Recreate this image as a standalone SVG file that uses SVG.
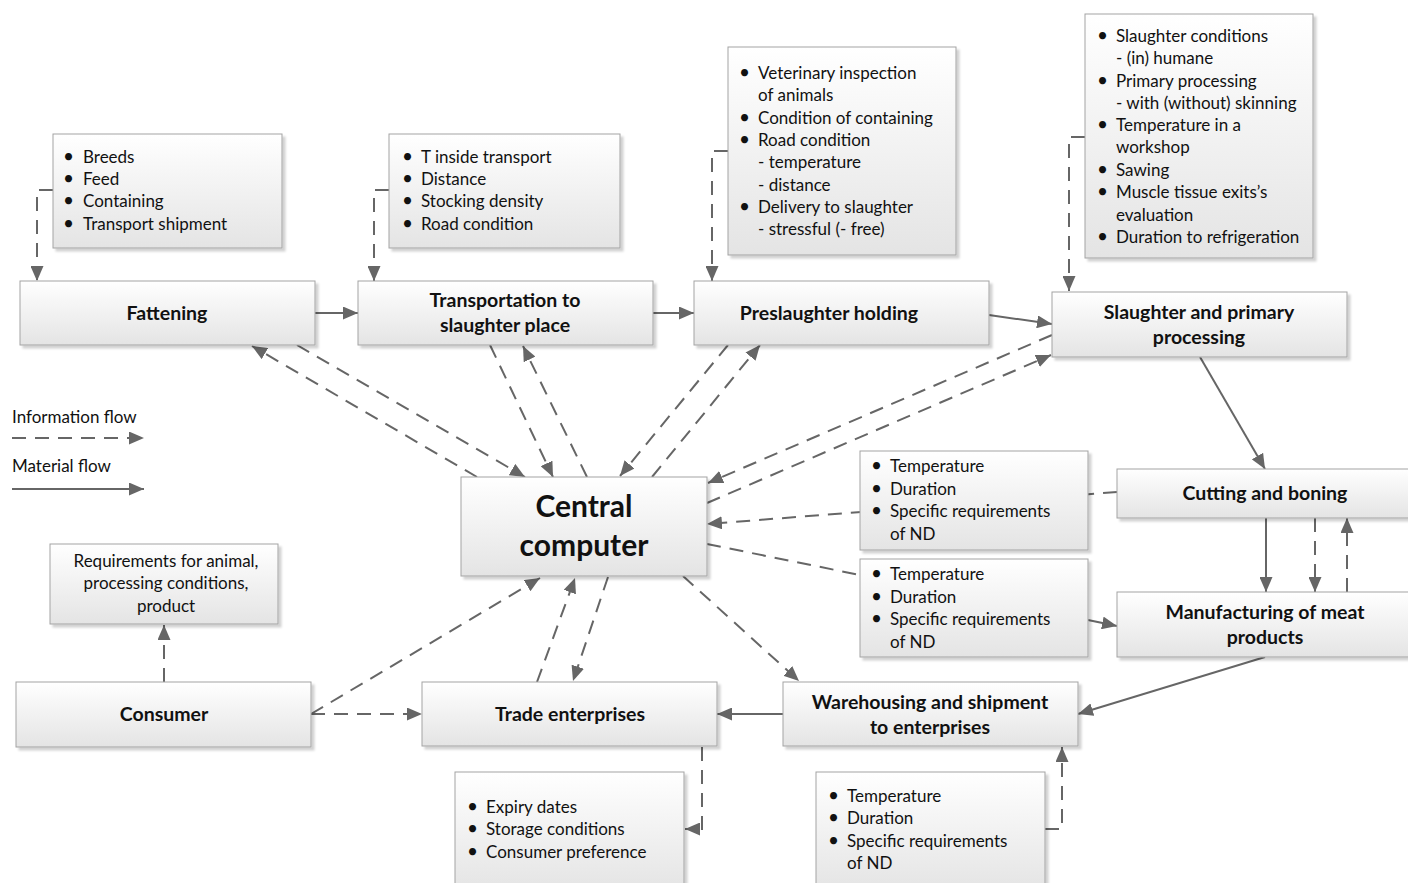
<svg xmlns="http://www.w3.org/2000/svg" width="1408" height="883" viewBox="0 0 1408 883">
<style>
.box{fill:url(#grad);stroke:#a3a3a3;stroke-width:1;filter:url(#sh)}
.t{font-family:Lato,"Liberation Sans",sans-serif;font-size:17px;fill:#111}
.bu{font-size:19px}
.b{font-family:Lato,"Liberation Sans",sans-serif;font-size:19.5px;font-weight:bold;fill:#111;text-anchor:middle}
.big{font-family:Lato,"Liberation Sans",sans-serif;font-size:30px;font-weight:bold;fill:#111;text-anchor:middle}
.c{text-anchor:middle}
.d{fill:none;stroke:#666;stroke-width:2;stroke-dasharray:14 9}
.s{fill:none;stroke:#666;stroke-width:2}
.a{marker-end:url(#ah)}
</style>
<defs>
<linearGradient id="grad" x1="0" y1="0" x2="0" y2="1">
<stop offset="0" stop-color="#ffffff"/>
<stop offset="1" stop-color="#e4e4e4"/>
</linearGradient>
<filter id="sh" x="-5%" y="-5%" width="115%" height="125%">
<feDropShadow dx="3" dy="3" stdDeviation="1.2" flood-color="#000" flood-opacity="0.18"/>
</filter>
<marker id="ah" markerUnits="userSpaceOnUse" markerWidth="15" markerHeight="13" viewBox="0 0 15 13" refX="15" refY="6.5" orient="auto">
<path d="M0,0 L15,6.5 L0,13 z" fill="#666"/>
</marker>
</defs>
<rect width="1408" height="883" fill="#fff"/>

<g id="connectors">
<path class="d a" d="M53,190 H37 V281"/>
<path class="d a" d="M389,190 H374 V281"/>
<path class="d a" d="M728,151 H712 V281"/>
<path class="d a" d="M1085,137 H1069 V291"/>
<path class="s a" d="M315,313 H358"/>
<path class="s a" d="M653,313 H694"/>
<path class="s a" d="M989,315 L1052,324"/>
<path class="s a" d="M1200,357 L1265,469"/>
<path class="s a" d="M1266,518 V592"/>
<path class="s a" d="M1265,657 L1078,714"/>
<path class="s a" d="M783,714 H717"/>
<path class="s a" d="M1088,620 L1117,626"/>
<path class="d a" d="M297,345 L525,477"/>
<path class="d a" d="M477,477 L252,346"/>
<path class="d a" d="M490,345 L553,477"/>
<path class="d a" d="M587,477 L523,346"/>
<path class="d a" d="M728,345 L620,476"/>
<path class="d a" d="M652,477 L760,345"/>
<path class="d a" d="M1052,335 L708,483"/>
<path class="d a" d="M707,503 L1051,355"/>
<path class="d a" d="M1117,492 L707,524"/>
<path class="d" d="M707,544 L860,575"/>
<path class="d a" d="M683,576 L799,681"/>
<path class="d a" d="M537,682 L575,578"/>
<path class="d a" d="M608,577 L573,681"/>
<path class="d a" d="M311,714 L540,578"/>
<path class="d a" d="M311,714 H422"/>
<path class="d a" d="M164,682 V625"/>
<path class="d a" d="M1315,518 V592"/>
<path class="d a" d="M1347,592 V518"/>
<path class="d a" d="M702,747 V829 H685"/>
<path class="d a" d="M1045,829 H1062 V747"/>
<path class="d a" d="M12,438 H144"/>
<path class="s a" d="M12,489 H144"/>
</g>

<g id="legend">
<text class="t" x="12" y="423">Information flow</text>
<text class="t" x="12" y="472">Material flow</text>
</g>

<g id="info-fattening">
<rect class="box" x="53" y="134" width="229" height="114"/>
<text class="t"><tspan class="bu" x="63" y="163">•</tspan><tspan x="83" y="163">Breeds</tspan><tspan class="bu" x="63" y="185">•</tspan><tspan x="83" y="185">Feed</tspan><tspan class="bu" x="63" y="207">•</tspan><tspan x="83" y="207">Containing</tspan><tspan class="bu" x="63" y="230">•</tspan><tspan x="83" y="230">Transport shipment</tspan></text>
</g>
<g id="info-transport">
<rect class="box" x="389" y="134" width="231" height="114"/>
<text class="t"><tspan class="bu" x="402" y="163">•</tspan><tspan x="421" y="163">T inside transport</tspan><tspan class="bu" x="402" y="185">•</tspan><tspan x="421" y="185">Distance</tspan><tspan class="bu" x="402" y="207">•</tspan><tspan x="421" y="207">Stocking density</tspan><tspan class="bu" x="402" y="230">•</tspan><tspan x="421" y="230">Road condition</tspan></text>
</g>
<g id="info-preslaughter">
<rect class="box" x="728" y="47" width="228" height="208"/>
<text class="t"><tspan class="bu" x="739" y="79">•</tspan><tspan x="758" y="79">Veterinary inspection</tspan><tspan x="758" y="101">of animals</tspan><tspan class="bu" x="739" y="124">•</tspan><tspan x="758" y="124">Condition of containing</tspan><tspan class="bu" x="739" y="146">•</tspan><tspan x="758" y="146">Road condition</tspan><tspan x="758" y="168">- temperature</tspan><tspan x="758" y="191">- distance</tspan><tspan class="bu" x="739" y="213">•</tspan><tspan x="758" y="213">Delivery to slaughter</tspan><tspan x="758" y="235">- stressful (- free)</tspan></text>
</g>
<g id="info-slaughter">
<rect class="box" x="1085" y="14" width="228" height="244"/>
<text class="t"><tspan class="bu" x="1097" y="42">•</tspan><tspan x="1116" y="42">Slaughter conditions</tspan><tspan x="1116" y="64">- (in) humane</tspan><tspan class="bu" x="1097" y="87">•</tspan><tspan x="1116" y="87">Primary processing</tspan><tspan x="1116" y="109">- with (without) skinning</tspan><tspan class="bu" x="1097" y="131">•</tspan><tspan x="1116" y="131">Temperature in a</tspan><tspan x="1116" y="153">workshop</tspan><tspan class="bu" x="1097" y="176">•</tspan><tspan x="1116" y="176">Sawing</tspan><tspan class="bu" x="1097" y="198">•</tspan><tspan x="1116" y="198">Muscle tissue exits’s</tspan><tspan x="1116" y="221">evaluation</tspan><tspan class="bu" x="1097" y="243">•</tspan><tspan x="1116" y="243">Duration to refrigeration</tspan></text>
</g>

<g id="fattening">
<rect class="box" x="20" y="281" width="295" height="64"/>
<text class="b" x="167" y="320">Fattening</text>
</g>
<g id="transportation">
<rect class="box" x="358" y="281" width="295" height="64"/>
<text class="b" x="505" y="307">Transportation to</text>
<text class="b" x="505" y="332">slaughter place</text>
</g>
<g id="preslaughter">
<rect class="box" x="694" y="281" width="295" height="64"/>
<text class="b" x="829" y="320">Preslaughter holding</text>
</g>
<g id="slaughter">
<rect class="box" x="1052" y="292" width="295" height="65"/>
<text class="b" x="1199" y="319">Slaughter and primary</text>
<text class="b" x="1199" y="344">processing</text>
</g>
<g id="central">
<rect class="box" x="461" y="477" width="246" height="99"/>
<text class="big" x="584" y="517">Central</text>
<text class="big" x="584" y="556">computer</text>
</g>
<g id="info-cutting">
<rect class="box" x="860" y="451" width="228" height="99"/>
<text class="t"><tspan class="bu" x="871" y="472">•</tspan><tspan x="890" y="472">Temperature</tspan><tspan class="bu" x="871" y="495">•</tspan><tspan x="890" y="495">Duration</tspan><tspan class="bu" x="871" y="517">•</tspan><tspan x="890" y="517">Specific requirements</tspan><tspan x="890" y="540">of ND</tspan></text>
</g>
<g id="info-manufacturing">
<rect class="box" x="860" y="559" width="228" height="98"/>
<text class="t"><tspan class="bu" x="871" y="580">•</tspan><tspan x="890" y="580">Temperature</tspan><tspan class="bu" x="871" y="603">•</tspan><tspan x="890" y="603">Duration</tspan><tspan class="bu" x="871" y="625">•</tspan><tspan x="890" y="625">Specific requirements</tspan><tspan x="890" y="648">of ND</tspan></text>
</g>
<g id="cutting">
<rect class="box" x="1117" y="469" width="296" height="49"/>
<text class="b" x="1265" y="500">Cutting and boning</text>
</g>
<g id="manufacturing">
<rect class="box" x="1117" y="592" width="296" height="65"/>
<text class="b" x="1265" y="619">Manufacturing of meat</text>
<text class="b" x="1265" y="644">products</text>
</g>
<g id="requirements">
<rect class="box" x="50" y="544" width="228" height="80"/>
<text class="t c" x="166" y="567">Requirements for animal,</text>
<text class="t c" x="166" y="589">processing conditions,</text>
<text class="t c" x="166" y="612">product</text>
</g>
<g id="consumer">
<rect class="box" x="16" y="682" width="295" height="65"/>
<text class="b" x="164" y="721">Consumer</text>
</g>
<g id="trade">
<rect class="box" x="422" y="682" width="295" height="64"/>
<text class="b" x="570" y="721">Trade enterprises</text>
</g>
<g id="warehousing">
<rect class="box" x="783" y="682" width="295" height="64"/>
<text class="b" x="930" y="709">Warehousing and shipment</text>
<text class="b" x="930" y="734">to enterprises</text>
</g>
<g id="info-trade">
<rect class="box" x="455" y="772" width="229" height="120"/>
<text class="t"><tspan class="bu" x="467" y="813">•</tspan><tspan x="486" y="813">Expiry dates</tspan><tspan class="bu" x="467" y="835">•</tspan><tspan x="486" y="835">Storage conditions</tspan><tspan class="bu" x="467" y="858">•</tspan><tspan x="486" y="858">Consumer preference</tspan></text>
</g>
<g id="info-warehousing">
<rect class="box" x="816" y="772" width="229" height="120"/>
<text class="t"><tspan class="bu" x="828" y="802">•</tspan><tspan x="847" y="802">Temperature</tspan><tspan class="bu" x="828" y="824">•</tspan><tspan x="847" y="824">Duration</tspan><tspan class="bu" x="828" y="847">•</tspan><tspan x="847" y="847">Specific requirements</tspan><tspan x="847" y="869">of ND</tspan></text>
</g>
</svg>
